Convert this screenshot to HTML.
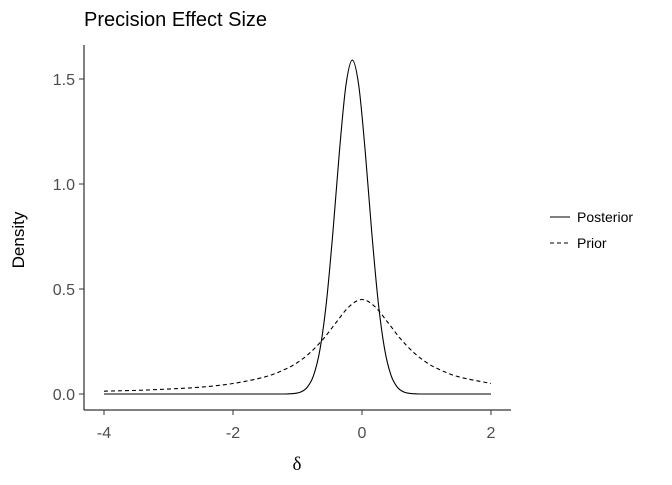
<!DOCTYPE html>
<html><head><meta charset="utf-8"><style>
body{margin:0;background:#fff}
svg text{font-family:"Liberation Sans",sans-serif}
</style></head><body>
<svg id="c" width="672" height="480">
<text x="84" y="26" font-size="20" fill="#000">Precision Effect Size</text>
<text transform="translate(24,240) rotate(-90)" text-anchor="middle" font-size="17" fill="#000">Density</text>
<text x="297" y="470" text-anchor="middle" font-size="19" style="font-family:'Liberation Serif',serif">δ</text>
<line x1="84" y1="45" x2="84" y2="410" stroke="#000" stroke-width="1"/>
<line x1="84" y1="410" x2="511" y2="410" stroke="#000" stroke-width="1"/>
<g id="ticks"></g>
<g id="marks"></g>
<g>
<line x1="550" y1="217" x2="570" y2="217" stroke="#000"/>
<text x="577" y="222" font-size="14">Posterior</text>
<line x1="550" y1="243" x2="570" y2="243" stroke="#000" stroke-dasharray="4,3"/>
<text x="577" y="248" font-size="14">Prior</text>
</g>
</svg>
<script>
const xTicks=[-4,-2,0,2];
const yTicks=[0,0.5,1.0,1.5];
const yTickLabels=["0.0","0.5","1.0","1.5"];
const priorX=[-4,-3.5,-3,-2.5,-2,-1.5,-1.2,-1,-0.8,-0.6,-0.4,-0.2,0,0.2,0.4,0.6,0.8,1,1.2,1.5,2];
const priorY=[0.0136,0.0173,0.0237,0.0327,0.05,0.0818,0.1166,0.15,0.198,0.262,0.341,0.416,0.45,0.416,0.341,0.262,0.198,0.15,0.1166,0.0818,0.05];
const postX=[-4,-3,-2,-1.5,-1.25,-1.15,-1.05,-0.95,-0.85,-0.75,-0.65,-0.55,-0.45,-0.35,-0.25,-0.15,-0.05,0.05,0.15,0.25,0.35,0.45,0.55,0.65,0.75,0.85,0.95,1.2,1.5,2];
const postY=[0,0,0,0,0,0.0005,0.0025,0.0095,0.0315,0.089,0.215,0.442,0.774,1.155,1.468,1.59,1.468,1.155,0.774,0.442,0.215,0.089,0.0315,0.0095,0.0025,0.0005,0,0,0,0];
const sx=v=>362+v*64.5, sy=v=>394-v*210;
const NS="http://www.w3.org/2000/svg";
const tg=document.getElementById('ticks'), mg=document.getElementById('marks');
function mk(t,a,p){const e=document.createElementNS(NS,t);for(const k in a)e.setAttribute(k,a[k]);p.appendChild(e);return e;}
xTicks.forEach(v=>{
 const l=mk('line',{x1:sx(v),x2:sx(v),y1:410,y2:415,stroke:'#333'},tg);
 
 
 const t=mk('text',{x:sx(v),y:438,'text-anchor':'middle','font-size':16,fill:'#4d4d4d'},tg);t.textContent=v;
 
 
});
yTicks.forEach((v,i)=>{
 const l=mk('line',{x1:79,x2:84,y1:sy(v),y2:sy(v),stroke:'#333'},tg);
 
 
 const t=mk('text',{x:75,y:sy(v)+6,'text-anchor':'end','font-size':16,fill:'#4d4d4d'},tg);t.textContent=yTickLabels[i];
 
 
});
function path(xs,ys){
 const p=xs.map((x,i)=>[sx(x),sy(ys[i])]);
 let d='M'+p[0][0]+','+p[0][1];
 for(let i=0;i<p.length-1;i++){
  const p0=p[Math.max(0,i-1)],p1=p[i],p2=p[i+1],p3=p[Math.min(p.length-1,i+2)];
  let c1=[p1[0]+(p2[0]-p0[0])/6,p1[1]+(p2[1]-p0[1])/6];
  let c2=[p2[0]-(p3[0]-p1[0])/6,p2[1]-(p3[1]-p1[1])/6];
  const lo=Math.min(p1[1],p2[1]),hi=Math.max(p1[1],p2[1]);
  c1[1]=Math.min(hi,Math.max(lo,c1[1]));c2[1]=Math.min(hi,Math.max(lo,c2[1]));
  d+=`C${c1[0]},${c1[1]} ${c2[0]},${c2[1]} ${p2[0]},${p2[1]}`;
 }
 return d;
}
const pr=mk('path',{d:path(priorX,priorY),fill:'none',stroke:'#000','stroke-width':1.1,'stroke-dasharray':'4,3'},mg);


const po=mk('path',{d:path(postX,postY),fill:'none',stroke:'#000','stroke-width':1.1},mg);


</script>
</body></html>
